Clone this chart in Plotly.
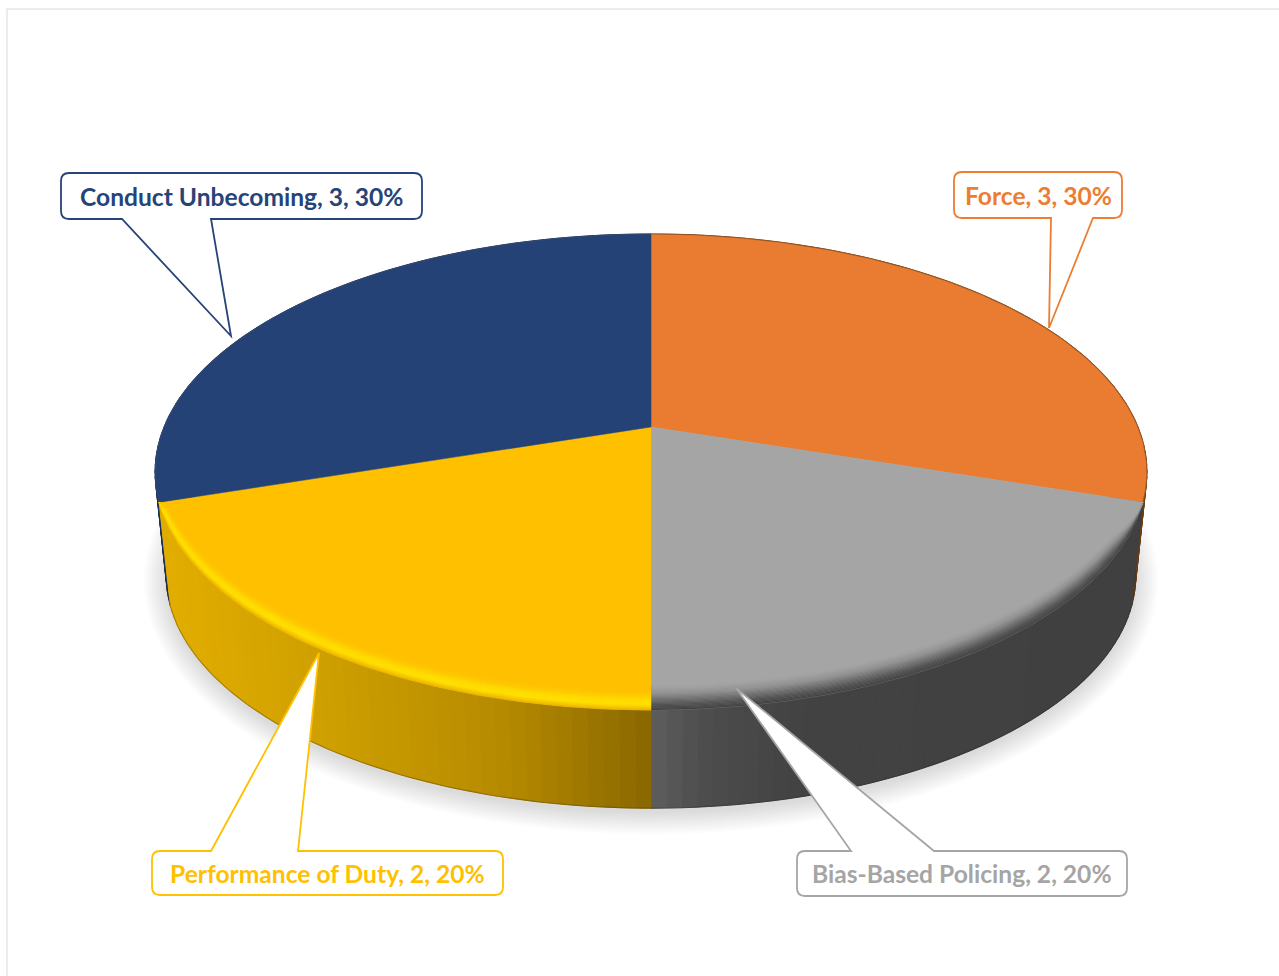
import numpy as np
import plotly.graph_objects as go

# ---- data ----
categories = ["Force", "Bias-Based Policing", "Performance of Duty", "Conduct Unbecoming"]
values = [3, 2, 2, 3]

# ---- styles ----
top_colors = ["#E97C30", "#A5A5A5", "#FFC000", "#254277"]
text_colors = ["#ED7D31", "#A5A5A5", "#FFC000", "#264478"]
wall_stops = {
    0: [(0, "#6E3E14"), (1279, "#6E3E14")],
    1: [(651, "#5E5E5E"), (700, "#4E4E4E"), (800, "#434343"), (1150, "#404040")],
    2: [(160, "#E3AE00"), (320, "#CFA000"), (500, "#B78B00"), (651, "#8A6800")],
    3: [(0, "#1B3057"), (1279, "#1B3057")],
}
bevel_stops = {
    1: [(0.0, "#424242"), (0.2, "#505050"), (0.45, "#707070"), (0.7, "#929292"), (1.0, "#A5A5A5")],
    2: [(0.0, "#E6B200"), (0.15, "#F8CA00"), (0.3, "#FFE200"), (0.5, "#FFDC00"), (0.75, "#FFCA00"), (1.0, "#FFC000")],
}
bevel_depth = {1: 24, 2: 20}

# Callouts: box left, top, right, bottom, tail base x1, x2, tip x, tip y
callouts = [
    (954, 172, 1122, 218, 1051, 1093, 1049, 328),
    (797, 851, 1127, 896, 851, 934, 736, 688),
    (152, 851, 503, 895, 211, 298, 319, 653),
    (61, 173, 422, 219, 122, 211, 231, 336),
]

W, H = 1279, 976
CX, CY, A, B, K = 651.0, 427.0, 487.0, 229.5, 0.189
A2, B2, CY2 = 476.0, 224.0, 532.0


def rim(theta_deg, a=A, b=B, cy=CY):
    t = np.radians(theta_deg)
    X, Y = np.sin(t), np.cos(t)
    w = 1 + K * Y
    return CX + a * X / w, cy - b * Y / w


def hex2rgb(c):
    return np.array([int(c[i:i + 2], 16) for i in (1, 3, 5)], float)


def interp_color(stops, v):
    xs = [s[0] for s in stops]
    rgb = np.array([hex2rgb(s[1]) for s in stops])
    return "rgb(%d,%d,%d)" % tuple(np.interp(v, xs, rgb[:, i]) for i in range(3))


def poly(xs, ys, color, lw=0.7):
    return go.Scatter(x=list(xs), y=list(ys), mode="lines", fill="toself", fillcolor=color,
                      line=dict(color=color, width=lw), hoverinfo="skip", showlegend=False)


fig = go.Figure()

# soft ground shadow
full = np.linspace(0, 360, 241)
for e in np.linspace(22, 0, 12):
    x, y = rim(full, A2, B2, CY2)
    xs = CX + (x - CX) * (1 + e / 476)
    ys = CY2 + 45 + (y - CY2 - 45) * (1 + e / 240) + 5
    fig.add_trace(poly(xs, ys, "rgba(0,0,0,0.011)", 0))

# slice angles, clockwise from 12 o'clock
total = sum(values)
edges = np.concatenate([[0], np.cumsum(values)]) / total * 360

# walls, back slices first so that the front ones lie on top
for i in [3, 0, 1, 2]:
    a0, a1 = edges[i], edges[i + 1]
    whole = np.linspace(a0, a1, 121)
    xt, yt = rim(whole)
    xb, yb = rim(whole, A2, B2, CY2)
    base = interp_color(wall_stops[i], xt.mean())
    fig.add_trace(poly(np.concatenate([xt, xb[::-1], xt[:1]]), np.concatenate([yt, yb[::-1], yt[:1]]), base, 0))
    n = max(2, int((a1 - a0) / 1.5))
    grid = np.linspace(a0, a1, n + 1)
    for t0, t1 in zip(grid[:-1], grid[1:]):
        tt = np.linspace(t0, t1, 3)
        xt, yt = rim(tt)
        xb, yb = rim(tt, A2, B2, CY2)
        xs = np.concatenate([xt, xb[::-1], xt[:1]])
        ys = np.concatenate([yt, yb[::-1], yt[:1]])
        fig.add_trace(poly(xs, ys, interp_color(wall_stops[i], xt.mean()), 1.0))

# thin darker line along the bottom edge of the wall
bt = np.linspace(100, 258, 200)
xb, yb = rim(bt, A2, B2, CY2)
fig.add_trace(go.Scatter(x=xb, y=yb, mode="lines", line=dict(color="rgba(50,40,20,0.3)", width=1.2),
                         hoverinfo="skip", showlegend=False))

# top faces
for i in range(len(values)):
    tt = np.linspace(edges[i], edges[i + 1], 121)
    x, y = rim(tt)
    xs = np.concatenate([[CX], x, [CX]])
    ys = np.concatenate([[CY], y, [CY]])
    fig.add_trace(poly(xs, ys, top_colors[i], 0.5))

# soft hairline on the back rim of the two rear slices
for i, col in [(0, "rgba(95,60,30,0.4)"), (3, "rgba(90,95,110,0.3)")]:
    tt = np.linspace(edges[i], edges[i + 1], 121)
    x, y = rim(tt)
    fig.add_trace(go.Scatter(x=x, y=y, mode="lines", line=dict(color=col, width=1.2),
                             hoverinfo="skip", showlegend=False))

# bevel along the front rim, as thin shaded bands
for i in (1, 2):
    a0, a1 = edges[i], edges[i + 1]
    tt = np.linspace(a0, a1, 121)
    x, y = rim(tt)
    taper_start = np.clip((tt - a0) / 14, 0, 1) if i == 1 else np.ones_like(tt)
    taper_end = np.clip((a1 - tt) / 5, 0, 1) if i == 2 else np.ones_like(tt)
    taper = taper_start * taper_end
    levels = np.linspace(0, 1, 21)
    for l0, l1 in zip(levels[:-1], levels[1:]):
        y0 = y - bevel_depth[i] * l0 * taper
        y1 = y - bevel_depth[i] * l1 * taper
        xs = np.concatenate([x, x[::-1], x[:1]])
        ys = np.concatenate([y0, y1[::-1], y0[:1]])
        fig.add_trace(poly(xs, ys, interp_color(bevel_stops[i], (l0 + l1) / 2), 0.5))

# callouts + their text
shapes = [
    dict(type="line", xref="x", yref="y", x0=7, y0=9, x1=W, y1=9, line=dict(color="#D9D9D9", width=1)),
    dict(type="line", xref="x", yref="y", x0=7, y0=9, x1=7, y1=H, line=dict(color="#D9D9D9", width=1)),
]
annotations = []
R = 8
for i, (l, t, r, b, q0, q1, tx, ty) in enumerate(callouts):
    # tails point from the box towards the pie
    if ty < t:
        top_tail, bottom_tail = f"L{q0},{t} L{tx},{ty} L{q1},{t} ", ""
    else:
        top_tail, bottom_tail = "", f"L{q1},{b} L{tx},{ty} L{q0},{b} "
    path = (f"M{l + R},{t} {top_tail}L{r - R},{t} Q{r},{t} {r},{t + R} L{r},{b - R} Q{r},{b} {r - R},{b} "
            f"{bottom_tail}L{l + R},{b} Q{l},{b} {l},{b - R} L{l},{t + R} Q{l},{t} {l + R},{t} Z")
    shapes.append(dict(type="path", xref="x", yref="y", path=path, fillcolor="white",
                       line=dict(color=text_colors[i], width=1.8), layer="above"))
    pct = round(values[i] / total * 100)
    annotations.append(dict(x=(l + r) / 2, y=(t + b) / 2, xref="x", yref="y", showarrow=False,
                            text=f"<b>{categories[i]}, {values[i]}, {pct}%</b>",
                            font=dict(family="Lato", size=24.6, color=text_colors[i]),
                            xanchor="center", yanchor="middle"))

fig.update_layout(
    width=W, height=H, margin=dict(l=0, r=0, t=0, b=0),
    paper_bgcolor="white", plot_bgcolor="white", showlegend=False,
    xaxis=dict(range=[0, W], visible=False, fixedrange=True),
    yaxis=dict(range=[H, 0], visible=False, fixedrange=True),
    shapes=shapes, annotations=annotations,
)
fig.write_html("out.html", config={"displayModeBar": False},
               post_script="document.body.style.margin='0';document.body.style.overflow='hidden';")
